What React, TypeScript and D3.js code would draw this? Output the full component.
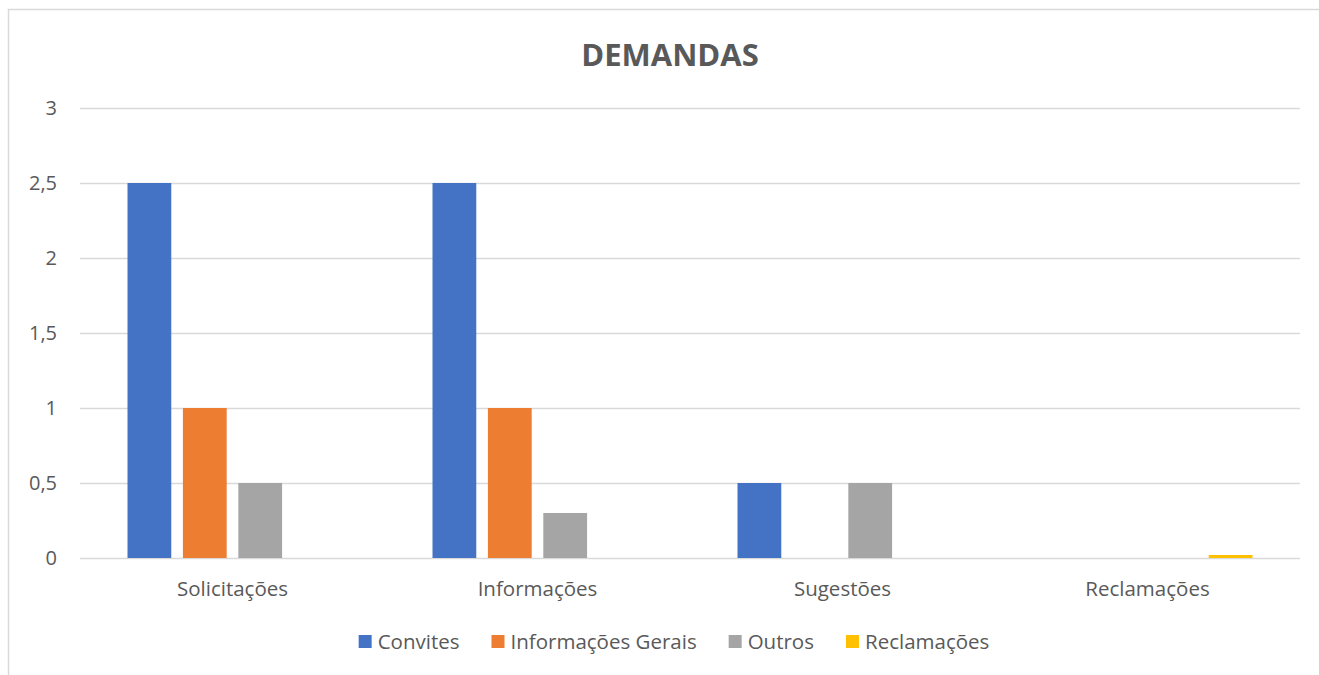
import { useRef, useEffect } from "react";
import * as d3 from "d3";

// data
const categories = ["Solicitações", "Informações", "Sugestões", "Reclamações"];
const seriesNames = ["Convites", "Informações Gerais", "Outros", "Reclamações"];
const convites = [2.5, 2.5, 0.5, 0];
const informacoesGerais = [1, 1, 0, 0];
const outros = [0.5, 0.3, 0.5, 0];
const reclamacoes = [0, 0, 0, 0.02];
const yTicks = [0, 0.5, 1, 1.5, 2, 2.5, 3];
const colors = ["#4472c4", "#ed7d31", "#a5a5a5", "#ffc000"];

const W = 1319;
const H = 675;
const FONT = "'Open Sans', 'Noto Sans', sans-serif";

export default function App() {
  const ref = useRef<SVGSVGElement>(null);

  useEffect(() => {
    const svg = d3.select(ref.current);
    svg.selectAll("*").remove();

    const series = [convites, informacoesGerais, outros, reclamacoes];
    const left = 80, right = 1300, top = 108, bottom = 558;

    const x0 = d3.scaleBand<string>().domain(categories).range([left, right]);
    const x1 = d3
      .scaleBand<number>()
      .domain(d3.range(seriesNames.length))
      .range([47.5, x0.bandwidth() - 47.5])
      .paddingInner(0.21);
    const y = d3.scaleLinear().domain([0, 3]).range([bottom, top]);

    // chart frame
    svg.append("rect")
      .attr("x", 8.5).attr("y", 9.5)
      .attr("width", 1340).attr("height", 700)
      .attr("fill", "white").attr("stroke", "#d9d9d9").attr("stroke-width", 1.5);

    // grid
    svg.append("g")
      .selectAll("line")
      .data(yTicks)
      .join("line")
      .attr("x1", left).attr("x2", right)
      .attr("y1", (d) => Math.round(y(d)) + 0.5)
      .attr("y2", (d) => Math.round(y(d)) + 0.5)
      .attr("stroke", "#d9d9d9").attr("stroke-width", 1.5);

    // y labels
    const fmt = (d: number) => String(d).replace(".", ",");
    svg.append("g")
      .selectAll("text")
      .data(yTicks)
      .join("text")
      .attr("x", 57).attr("y", (d) => y(d))
      .attr("dy", "0.35em")
      .attr("text-anchor", "end")
      .attr("font-family", FONT).attr("font-size", 20).attr("fill", "#595959")
      .text(fmt);

    // bars
    const g = svg.append("g");
    categories.forEach((c, ci) => {
      series.forEach((s, si) => {
        const v = s[ci];
        if (v <= 0) return;
        g.append("rect")
          .attr("x", x0(c)! + x1(si)!)
          .attr("y", y(v))
          .attr("width", x1.bandwidth())
          .attr("height", y(0) - y(v))
          .attr("fill", colors[si]);
      });
    });

    // category labels
    svg.append("g")
      .selectAll("text")
      .data(categories)
      .join("text")
      .attr("x", (d) => x0(d)! + x0.bandwidth() / 2)
      .attr("y", 596)
      .attr("text-anchor", "middle")
      .attr("font-family", FONT).attr("font-size", 20.5).attr("fill", "#595959")
      .text((d) => d);

    // title
    svg.append("text")
      .attr("x", 670).attr("y", 66)
      .attr("text-anchor", "middle")
      .attr("font-family", FONT).attr("font-size", 31).attr("font-weight", "bold")
      .attr("fill", "#595959")
      .text("DEMANDAS");

    // legend
    const lg = svg.append("g");
    const items = lg.selectAll("g").data(seriesNames).join("g");
    items.append("rect")
      .attr("width", 13).attr("height", 13).attr("y", -14)
      .attr("fill", (_, i) => colors[i]);
    items.append("text")
      .attr("x", 19)
      .attr("font-family", FONT).attr("font-size", 20.5).attr("fill", "#595959")
      .text((d) => d);
    let cx = 0;
    const offs: number[] = [];
    items.each(function () {
      const t = (this as SVGGElement).querySelector("text") as SVGTextElement;
      offs.push(cx);
      cx += 19 + t.getComputedTextLength() + 32;
    });
    const total = cx - 32;
    items.attr("transform", (_, i) => `translate(${offs[i]},0)`);
    lg.attr("transform", `translate(${674 - total / 2},649)`);
  }, []);

  return (
    <svg
      ref={ref}
      width={W}
      height={H}
      style={{ position: "absolute", left: 0, top: 0, background: "white" }}
    />
  );
}
